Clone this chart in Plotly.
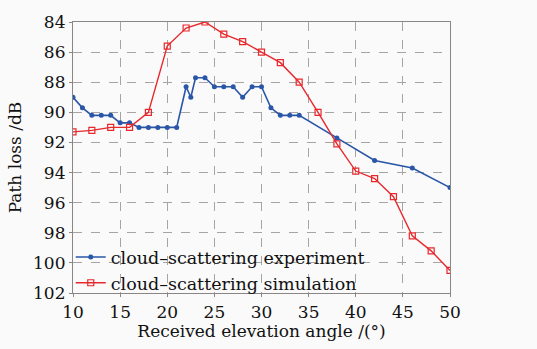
import plotly.graph_objects as go

# Received elevation angle (degrees) and path loss (dB)
exp_angle = [10, 11, 12, 13, 14, 15, 16, 17, 18, 19, 20, 21, 22, 22.5, 23, 24,
             25, 26, 27, 28, 29, 30, 31, 32, 33, 34, 38, 42, 46, 50]
exp_loss = [89.0, 89.7, 90.2, 90.2, 90.2, 90.7, 90.7, 91.0, 91.0, 91.0, 91.0, 91.0,
            88.3, 89.0, 87.7, 87.7, 88.3, 88.3, 88.3, 89.0, 88.3, 88.3, 89.7, 90.2,
            90.2, 90.2, 91.7, 93.2, 93.7, 95.0]

sim_angle = [10, 12, 14, 16, 18, 20, 22, 24, 26, 28, 30, 32, 34, 36, 38, 40, 42,
             44, 46, 48, 50]
sim_loss = [91.3, 91.2, 91.0, 91.0, 90.0, 85.6, 84.4, 84.0, 84.8, 85.3, 86.0, 86.7,
            88.0, 90.0, 92.1, 93.9, 94.4, 95.6, 98.2, 99.2, 100.5]

x_ticks = [10, 15, 20, 25, 30, 35, 40, 45, 50]
y_ticks = [84, 86, 88, 90, 92, 94, 96, 98, 100, 102]

FONT = "DejaVu Serif"
BLUE = "#2a56a8"
RED = "#e8282c"

fig = go.Figure()
fig.add_trace(go.Scatter(
    x=exp_angle, y=exp_loss, mode="lines+markers",
    name="cloud\u2013scattering experiment",
    line=dict(color=BLUE, width=1.6),
    marker=dict(symbol="circle", size=5, color=BLUE),
))
fig.add_trace(go.Scatter(
    x=sim_angle, y=sim_loss, mode="lines+markers",
    name="cloud\u2013scattering simulation",
    line=dict(color=RED, width=1.4),
    marker=dict(symbol="square-open", size=6, color=RED, line=dict(width=1.2)),
))

axis_common = dict(
    showline=True, linecolor="#8a8685", linewidth=1.2, mirror=True,
    showgrid=True, gridcolor="#a8a4a4", griddash="dash", gridwidth=1,
    zeroline=False, ticks="outside", ticklen=3, tickcolor="#8a8685",
    tickfont=dict(family=FONT, size=17, color="#111"),
)

fig.update_xaxes(
    range=[10, 50], tickvals=x_ticks, ticktext=[str(v) for v in x_ticks],
    title=dict(text="Received elevation angle /(\u00b0)", standoff=4,
               font=dict(family=FONT, size=17, color="#111")),
    **axis_common,
)
fig.update_yaxes(
    range=[102, 84], tickvals=y_ticks, ticktext=[str(v) for v in y_ticks],
    title=dict(text="Path loss /dB", standoff=7,
               font=dict(family=FONT, size=17, color="#111")),
    **axis_common,
)

fig.update_layout(
    width=537, height=349,
    margin=dict(l=73, r=87, t=16, b=56),
    paper_bgcolor="#fafafa", plot_bgcolor="#fafafa",
    font=dict(family=FONT, size=17, color="#111"),
    legend=dict(
        x=-0.006, y=-0.03, xanchor="left", yanchor="bottom",
        bgcolor="rgba(0,0,0,0)", borderwidth=0,
        font=dict(family=FONT, size=17.5, color="#111"),
        itemwidth=30, tracegroupgap=0,
    ),
    showlegend=True,
)

fig.write_html("out.html")
